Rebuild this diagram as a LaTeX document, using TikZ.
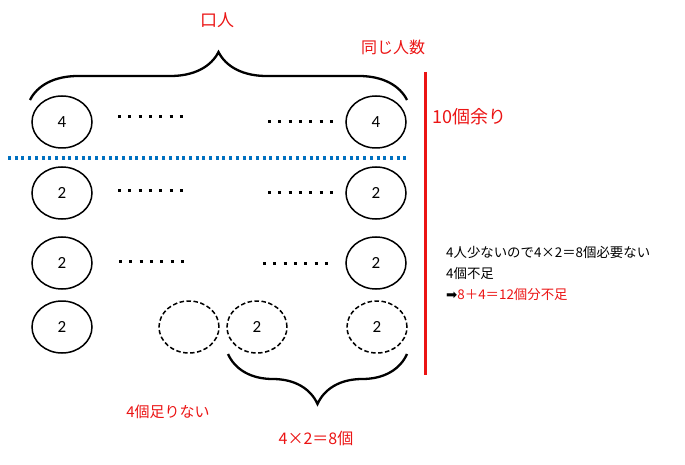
\documentclass[tikz,border=0pt]{standalone}
\usepackage{fontspec}
\setmainfont{Noto Sans CJK JP}
\newfontfamily\numfont{Carlito}
\newfontfamily\symfont{DejaVu Sans}
\usetikzlibrary{
    positioning,
    shapes.geometric,
    decorations.pathreplacing
}
\definecolor{akared}{RGB}{235,20,20}
\definecolor{tenblue}{RGB}{0,112,192}
\tikzset{
    hito/.style={
        ellipse, draw, line width=1.5pt,
        minimum width=60pt, minimum height=52pt,
        inner sep=0pt,
        font=\numfont\fontsize{17}{17}\selectfont
    },
    kari/.style={
        hito,
        dash pattern=on 4.5pt off 2.5pt
    },
    tenretsu/.style={
        line width=3pt,
        dash pattern=on 3pt off 7.33pt
    },
    kakko/.style={
        decorate,
        decoration={brace, amplitude=#1},
        line width=2.3pt
    },
    aka/.style={
        text=akared,
        inner sep=0pt,
        font=\fontsize{15}{18}\selectfont
    }
}

\begin{document}
\begin{tikzpicture}[x=1pt, y=-1pt]

    \useasboundingbox (0,0) rectangle (685,465);

    % 人
    \node[hito]  (a1) at (62,122)  {4};
    \node[hito]  (a2) at (376,122) {4};
    \node[hito]  (b1) at (62,193)  {2};
    \node[hito]  (b2) at (376,193) {2};
    \node[hito]  (c1) at (62,263)  {2};
    \node[hito]  (c2) at (376,263) {2};
    \node[hito]  (d1) at (62,327)  {2};
    \node[kari]  (d2) at (189,327) {};
    \node[kari]  (d3) at (257,327) {2};
    \node[kari]  (d4) at (377,327) {2};

    % 点線
    \coordinate (a1s) at (118,117);
    \coordinate (a1e) at (183,117);
    \coordinate (a2s) at (268,122);
    \coordinate (a2e) at (335,122);
    \coordinate (b1s) at (118,191);
    \coordinate (b1e) at (183,191);
    \coordinate (b2s) at (268,193);
    \coordinate (b2e) at (335,193);
    \coordinate (c1s) at (119,261);
    \coordinate (c1e) at (184,261);
    \coordinate (c2s) at (263,263);
    \coordinate (c2e) at (330,263);
    \foreach \r in {a1,a2,b1,b2,c1,c2}
        \draw[tenretsu] (\r s) -- (\r e);

    % 区切り
    \coordinate (sl) at (8,158);
    \coordinate (sr) at (406,158);
    \draw[tenblue, line width=3.5pt, dash pattern=on 3pt off 3.7pt] (sl) -- (sr);

    \coordinate (vt) at (425,72);
    \coordinate (vb) at (425,375);
    \draw[akared, line width=3pt] (vt) -- (vb);

    % かっこ
    \coordinate (kl) at (30,100);
    \coordinate (kr) at (407,100);
    \draw[kakko=48pt] (kl) -- (kr);

    \coordinate (ml) at (228,354);
    \coordinate (mr) at (407,354);
    \draw[kakko=50pt] (mr) -- (ml);

    % 文字
    \node[aka, font=\fontsize{17}{18}\selectfont]
        (nin)   at (217,20)  {口人};
    \node[aka, font=\fontsize{16}{18}\selectfont]
        (onaji) at (393,47)  {同じ人数};
    \node[aka, anchor=west, font=\fontsize{18}{20}\selectfont]
        (amari) at (432,117) {10個余り};
    \node[aka]  (tarin) at (168,412) {4個足りない};
    \node[aka, font=\fontsize{16}{18}\selectfont]
        (hachi) at (316,438) {4×2＝8個};

    \node[anchor=west, align=left, inner sep=0pt,
          font=\fontsize{13.4}{21}\selectfont]
        (setsu) at (446,273)
        {4人少ないので4×2＝8個必要ない\\
         4個不足\\
         {\symfont ➡}\textcolor{akared}{8＋4＝12個分不足}};

\end{tikzpicture}
\end{document}
